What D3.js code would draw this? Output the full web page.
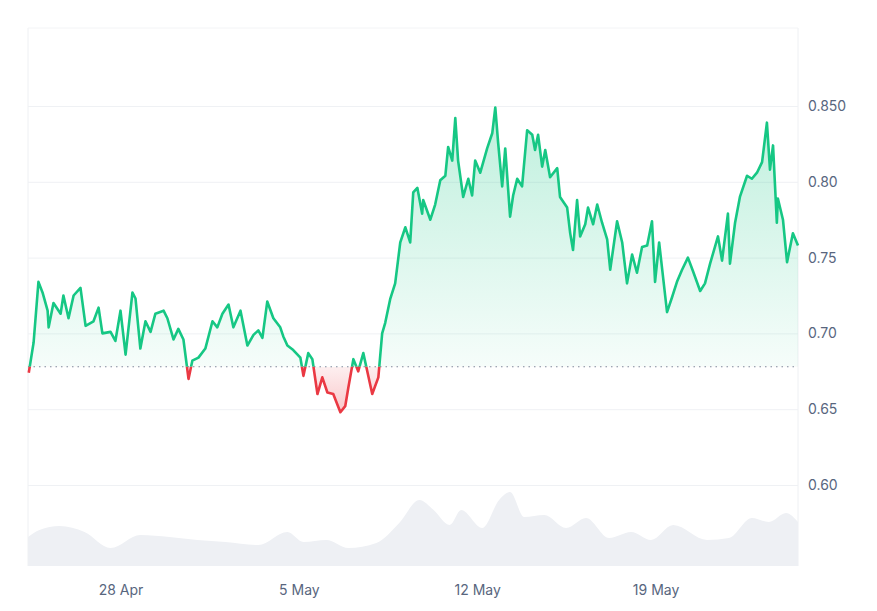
<!DOCTYPE html>
<html><head><meta charset="utf-8">
<script src="https://cdn.jsdelivr.net/npm/d3@7"></script>
<style>body{margin:0;background:#fff}svg{display:block}</style>
</head><body>
<svg id="c" width="877" height="611"></svg>
<script>
// days offset from 28 Apr 2024
const priceDays = [-3.6,-3.41,-3.22,-3.06,-2.86,-2.82,-2.63,-2.35,-2.24,-2.04,-1.84,-1.57,-1.37,-1.06,-0.86,-0.71,-0.39,-0.2,0,0.2,0.47,0.59,0.78,0.98,1.18,1.37,1.69,1.84,2.08,2.27,2.47,2.67,2.82,3.06,3.33,3.61,3.8,4.0,4.24,4.43,4.71,4.98,5.22,5.41,5.57,5.76,6.0,6.27,6.39,6.55,6.78,7.06,7.18,7.37,7.53,7.73,7.92,8.12,8.35,8.63,8.82,8.94,9.14,9.33,9.53,9.88,10.12,10.27,10.39,10.59,10.78,10.98,11.18,11.37,11.49,11.65,11.84,11.88,12.16,12.35,12.55,12.75,12.86,13.02,13.14,13.25,13.45,13.65,13.8,13.92,14.12,14.39,14.59,14.71,14.82,14.98,15.1,15.29,15.41,15.57,15.76,15.96,16.16,16.27,16.39,16.55,16.67,16.86,17.14,17.25,17.53,17.65,17.76,17.92,18.04,18.24,18.35,18.55,18.71,18.9,19.1,19.22,19.49,19.69,19.88,20.08,20.27,20.47,20.67,20.86,20.98,21.14,21.45,21.65,21.84,22.04,22.27,22.47,22.75,22.94,23.14,23.45,23.61,23.84,23.92,24.12,24.31,24.59,24.78,24.98,25.18,25.37,25.49,25.61,25.76,25.8,26.0,26.16,26.39,26.59];
const prices = [0.674,0.694,0.734,0.727,0.715,0.704,0.72,0.713,0.725,0.71,0.725,0.73,0.705,0.708,0.717,0.70,0.701,0.695,0.715,0.686,0.727,0.723,0.69,0.708,0.701,0.713,0.715,0.71,0.696,0.703,0.696,0.67,0.682,0.684,0.69,0.708,0.704,0.713,0.719,0.704,0.715,0.692,0.699,0.702,0.697,0.721,0.71,0.704,0.698,0.692,0.689,0.684,0.672,0.687,0.683,0.66,0.671,0.661,0.66,0.648,0.652,0.664,0.683,0.675,0.687,0.66,0.671,0.70,0.707,0.723,0.733,0.76,0.77,0.76,0.793,0.796,0.779,0.788,0.775,0.785,0.801,0.804,0.823,0.814,0.842,0.814,0.79,0.802,0.791,0.814,0.806,0.822,0.832,0.849,0.826,0.797,0.822,0.777,0.791,0.802,0.797,0.834,0.831,0.821,0.831,0.81,0.821,0.803,0.809,0.79,0.783,0.766,0.755,0.788,0.764,0.772,0.783,0.772,0.785,0.773,0.762,0.742,0.774,0.76,0.733,0.752,0.74,0.757,0.758,0.774,0.734,0.76,0.714,0.724,0.734,0.742,0.75,0.741,0.728,0.733,0.746,0.764,0.748,0.779,0.746,0.773,0.79,0.804,0.802,0.806,0.813,0.839,0.808,0.824,0.773,0.789,0.775,0.747,0.766,0.758];
const baselinePrice = 0.678;
const volDays = [-3.63,-3.18,-2.39,-1.41,-0.39,0.78,1.92,3.02,4.12,5.41,6.55,7.18,8.08,8.94,10.04,10.94,11.73,12.29,12.92,13.37,14.2,14.86,15.29,15.84,16.63,17.49,18.27,19.18,20.04,20.82,21.69,23.02,23.88,24.78,25.45,26.12,26.59];
const volumes = [29,36,40,34,18,31,29,26,24,21,34,24,26,18,23,43,66,56,41,56,38,66,74,49,51,38,48,28,34,26,41,26,28,48,44,53,44];
const tickDays = [0,7,14,21];
const tickLabels = ["28 Apr","5 May","12 May","19 May"];
const yTicks = [0.60,0.65,0.70,0.75,0.80,0.85];

const base = new Date(2024,3,28);
const toDate = d => new Date(base.getTime() + d*86400000);
const svg = d3.select("#c");
const L=28,R=798,T=28,B=566;
const x = d3.scaleTime().domain([toDate(-3.63),toDate(26.59)]).range([L,R]);
const y = d3.scaleLinear().domain([0.60,0.85]).range([485,106]);
const yv = d3.scaleLinear().domain([0,100]).range([B,B-100]);
const font = "Inter, 'Noto Sans', sans-serif";

svg.append("line").attr("x1",L).attr("x2",L).attr("y1",T).attr("y2",B).attr("stroke","#eef0f3");
svg.append("line").attr("x1",R).attr("x2",R).attr("y1",T).attr("y2",B).attr("stroke","#eef0f3");
svg.append("line").attr("x1",L).attr("x2",R).attr("y1",T).attr("y2",T).attr("stroke","#f3f4f6");

const yAxis = d3.axisRight(y).tickValues(yTicks).tickSize(-(R-L))
  .tickFormat((d,i)=> d===0.85 ? "0.850" : d3.format(".2f")(d));
const ga = svg.append("g").attr("transform",`translate(${R},0)`).call(yAxis);
ga.select(".domain").remove();
ga.selectAll(".tick line").attr("stroke","#eff1f4");
ga.selectAll(".tick text").attr("x",10).attr("fill","#58667e").attr("font-size",14).attr("font-family",font);

const vdata = volDays.map((d,i)=>({t:toDate(d),v:volumes[i]}));
svg.append("path").datum(vdata)
  .attr("d",d3.area().x(d=>x(d.t)).y0(B).y1(d=>yv(d.v)).curve(d3.curveMonotoneX))
  .attr("fill","#eef0f4");

const pdata = priceDays.map((d,i)=>({t:toDate(d),p:prices[i]}));
const by = y(baselinePrice);
const defs = svg.append("defs");
defs.append("clipPath").attr("id","above").append("rect").attr("x",0).attr("y",0).attr("width",877).attr("height",by);
defs.append("clipPath").attr("id","below").append("rect").attr("x",0).attr("y",by).attr("width",877).attr("height",611-by);
const gG = defs.append("linearGradient").attr("id","gG").attr("x1",0).attr("x2",0).attr("gradientUnits","userSpaceOnUse")
  .attr("y1",y(0.85)).attr("y2",by);
gG.append("stop").attr("offset",0).attr("stop-color","#16c784").attr("stop-opacity",0.28);
gG.append("stop").attr("offset",1).attr("stop-color","#16c784").attr("stop-opacity",0.04);
const gR = defs.append("linearGradient").attr("id","gR").attr("x1",0).attr("x2",0).attr("gradientUnits","userSpaceOnUse")
  .attr("y1",by).attr("y2",y(0.645));
gR.append("stop").attr("offset",0).attr("stop-color","#ea3943").attr("stop-opacity",0.08);
gR.append("stop").attr("offset",1).attr("stop-color","#ea3943").attr("stop-opacity",0.3);

const area = d3.area().x(d=>x(d.t)).y0(by).y1(d=>y(d.p));
const line = d3.line().x(d=>x(d.t)).y(d=>y(d.p));
svg.append("path").datum(pdata).attr("d",area).attr("fill","url(#gG)").attr("clip-path","url(#above)");
svg.append("path").datum(pdata).attr("d",area).attr("fill","url(#gR)").attr("clip-path","url(#below)");
svg.append("line").attr("x1",L).attr("x2",R).attr("y1",by).attr("y2",by)
  .attr("stroke","#808a9d").attr("stroke-dasharray","1.5,4").attr("stroke-width",1.2);
svg.append("path").datum(pdata).attr("d",line).attr("fill","none").attr("stroke","#16c784").attr("stroke-width",2.6).attr("stroke-linejoin","round").attr("clip-path","url(#above)");
svg.append("path").datum(pdata).attr("d",line).attr("fill","none").attr("stroke","#ea3943").attr("stroke-width",2.6).attr("stroke-linejoin","round").attr("clip-path","url(#below)");

const xa = svg.append("g").attr("transform",`translate(0,${B})`)
  .call(d3.axisBottom(x).tickValues(tickDays.map(toDate)).tickSize(0).tickFormat((d,i)=>tickLabels[i]));
xa.select(".domain").remove();
xa.selectAll("text").attr("dy",0).attr("y",29).attr("fill","#58667e").attr("font-size",14).attr("font-family",font);
</script>
</body></html>
